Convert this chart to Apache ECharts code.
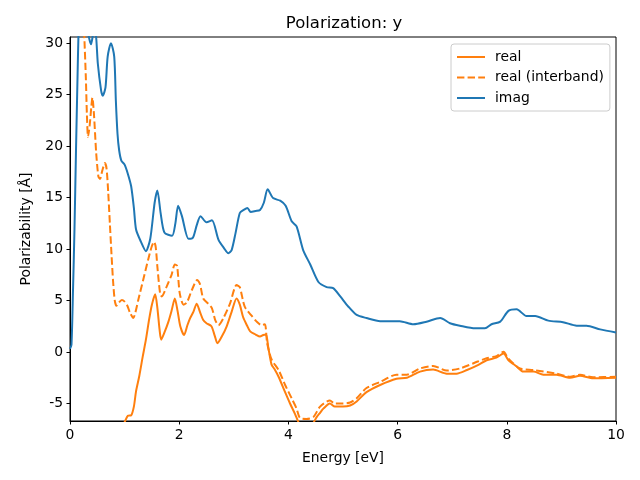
<!DOCTYPE html>
<html>
<head>
<meta charset="utf-8">
<script src="https://cdn.jsdelivr.net/npm/echarts@6/dist/echarts.min.js"></script>
<style>html,body{margin:0;padding:0;background:#fff}#c{width:640px;height:480px}</style>
</head>
<body>
<div id="c"></div>
<script>
// ---- data ----
const yTicks = [-5, 0, 5, 10, 15, 20, 25, 30];
const xTicks = [0, 2, 4, 6, 8, 10];

const realE = [0, 0.3, 0.6, 0.85, 0.97, 1.01, 1.06, 1.12, 1.17, 1.21, 1.27, 1.33, 1.39, 1.45, 1.5, 1.56, 1.6, 1.64, 1.67, 1.73, 1.8, 1.86, 1.92, 1.97, 2.02, 2.09, 2.15, 2.2, 2.26, 2.32, 2.38, 2.44, 2.5, 2.59, 2.65, 2.70, 2.78, 2.87, 2.96, 3.05, 3.11, 3.17, 3.24, 3.3, 3.4, 3.48, 3.54, 3.59, 3.63, 3.69, 3.75, 3.82, 3.94, 4.03, 4.12, 4.2, 4.3, 4.42, 4.52, 4.58, 4.64, 4.76, 4.85, 5.0, 5.13, 5.25, 5.43, 5.68, 5.98, 6.17, 6.41, 6.65, 6.9, 7.08, 7.27, 7.48, 7.63, 7.81, 7.94, 8.03, 8.18, 8.3, 8.49, 8.67, 8.91, 9.16, 9.34, 9.58, 10];
const realV = [-40, -25, -15, -9, -7.2, -6.7, -6.2, -6.15, -5.3, -3.8, -2.3, -0.5, 1.2, 3.2, 4.6, 5.6, 4.3, 2.2, 1.2, 1.9, 2.9, 4.0, 5.2, 4.0, 2.5, 1.65, 2.6, 3.3, 3.9, 4.7, 3.9, 3.1, 2.8, 2.5, 1.6, 0.85, 1.5, 2.5, 3.9, 5.2, 4.6, 3.4, 2.6, 2.0, 1.7, 1.5, 1.65, 1.7, 0.5, -1.2, -1.7, -2.4, -3.9, -5.0, -6.0, -7.0, -7.8, -7.2, -6.3, -5.9, -5.5, -5.0, -5.3, -5.3, -5.2, -4.8, -3.9, -3.2, -2.6, -2.5, -1.9, -1.7, -2.1, -2.1, -1.75, -1.25, -0.8, -0.55, -0.15, -0.8, -1.4, -1.9, -1.9, -2.2, -2.2, -2.5, -2.3, -2.55, -2.5];

const interE = [0, 0.2, 0.26, 0.29, 0.31, 0.33, 0.36, 0.39, 0.41, 0.44, 0.48, 0.52, 0.55, 0.59, 0.64, 0.67, 0.7, 0.73, 0.76, 0.79, 0.82, 0.85, 0.88, 0.95, 1.0, 1.05, 1.1, 1.16, 1.2, 1.25, 1.34, 1.43, 1.5, 1.54, 1.57, 1.6, 1.65, 1.68, 1.77, 1.86, 1.92, 1.96, 2.01, 2.08, 2.14, 2.23, 2.33, 2.38, 2.44, 2.53, 2.6, 2.66, 2.72, 2.81, 2.93, 3.05, 3.11, 3.2, 3.33, 3.41, 3.51, 3.57, 3.61, 3.69, 3.82, 3.94, 4.06, 4.15, 4.21, 4.33, 4.46, 4.58, 4.76, 4.85, 5.0, 5.13, 5.25, 5.43, 5.68, 5.98, 6.17, 6.41, 6.65, 6.9, 7.14, 7.48, 7.63, 7.81, 7.94, 8.03, 8.24, 8.49, 8.91, 9.16, 9.34, 9.58, 10];
const interV = [60, 40, 31, 26.7, 23, 20.9, 22, 23.8, 24.7, 23, 19.3, 17.05, 16.8, 17.6, 18.35, 17.8, 15.5, 12.5, 9.5, 6.8, 5.0, 4.5, 4.7, 5.05, 4.9, 4.5, 3.8, 3.3, 3.9, 5.05, 7.0, 8.95, 10.3, 10.7, 10.2, 8.3, 5.7, 5.4, 6.35, 7.5, 8.5, 8.4, 5.7, 4.6, 4.8, 6.0, 7.0, 6.6, 5.2, 4.7, 4.25, 3.1, 2.6, 3.3, 4.7, 6.5, 6.3, 4.4, 3.5, 3.0, 2.6, 2.7, 0.9, -0.7, -1.75, -3.2, -4.5, -5.5, -6.4, -6.5, -6.3, -5.3, -4.7, -5.0, -5.0, -4.9, -4.5, -3.5, -2.9, -2.2, -2.2, -1.6, -1.35, -1.8, -1.6, -0.9, -0.6, -0.4, 0.03, -0.65, -1.6, -1.75, -2.1, -2.4, -2.2, -2.45, -2.4];

const imagE = [0, 0.027, 0.055, 0.082, 0.11, 0.137, 0.156, 0.19, 0.25, 0.3, 0.34, 0.385, 0.42, 0.45, 0.48, 0.51, 0.57, 0.6, 0.65, 0.69, 0.75, 0.81, 0.84, 0.87, 0.9, 0.94, 1.0, 1.06, 1.12, 1.17, 1.21, 1.3, 1.39, 1.47, 1.55, 1.6, 1.66, 1.73, 1.87, 1.93, 1.98, 2.05, 2.17, 2.25, 2.32, 2.39, 2.5, 2.6, 2.72, 2.82, 2.9, 2.96, 3.03, 3.11, 3.18, 3.25, 3.31, 3.4, 3.48, 3.55, 3.62, 3.72, 3.85, 3.95, 4.06, 4.15, 4.27, 4.4, 4.55, 4.7, 4.82, 4.95, 5.1, 5.25, 5.43, 5.68, 6.04, 6.29, 6.53, 6.78, 6.96, 7.14, 7.42, 7.6, 7.72, 7.88, 8.03, 8.18, 8.36, 8.52, 8.76, 9.03, 9.28, 9.46, 9.71, 10];
const imagV = [0.3, 0.7, 6, 11.9, 19.6, 26.5, 31, 36, 38, 34, 30.8, 29.9, 30.8, 31.5, 30.5, 28, 25.4, 24.9, 25.7, 28.7, 30.0, 28.7, 24.4, 21.2, 19.6, 18.6, 18.2, 17.3, 16.1, 14, 11.9, 10.7, 9.8, 11, 14.5, 15.7, 13.5, 11.6, 11.3, 12.5, 14.2, 13.2, 11, 11.1, 12.3, 13.2, 12.6, 12.8, 10.9, 10.1, 9.6, 9.9, 11.5, 13.5, 13.8, 14.0, 13.6, 13.7, 13.8, 14.5, 15.8, 14.95, 14.7, 14.2, 12.7, 12.2, 9.9, 8.5, 6.8, 6.3, 6.2, 5.4, 4.4, 3.6, 3.3, 3.0, 3.0, 2.7, 2.95, 3.3, 2.8, 2.56, 2.3, 2.3, 2.7, 2.95, 4.0, 4.15, 3.5, 3.5, 3.05, 2.9, 2.56, 2.56, 2.2, 1.9];

const zip = (a, b) => a.map((x, i) => [x, b[i]]);

const FONT = 'DejaVu Sans';
const chart = echarts.init(document.getElementById('c'), null, {renderer: 'canvas'});
chart.setOption({
  animation: false,
  backgroundColor: '#fff',
  textStyle: {fontFamily: FONT},
  title: {
    text: 'Polarization: y', left: 339, top: 10, textAlign: 'center',
    textStyle: {fontFamily: FONT, fontSize: 16.5, fontWeight: 'normal', color: '#000'}
  },
  grid: {left: 70, right: 24, top: 37, bottom: 59, show: true, borderColor: '#000', borderWidth: 1, backgroundColor: 'transparent'},
  legend: {
    orient: 'vertical', left: 451, top: 44, align: 'left',
    padding: [6, 6, 6, 5], itemGap: 6.5, itemWidth: 28, itemHeight: 14,
    backgroundColor: 'rgba(255,255,255,0.8)', borderColor: '#cccccc', borderWidth: 1, borderRadius: 3,
    itemStyle: {opacity: 0},
    textStyle: {fontFamily: FONT, fontSize: 13.9, color: '#000', padding: [0, 0, 0, 5]},
    data: ['real', 'real (interband)', 'imag']
  },
  xAxis: {
    type: 'value', min: 0, max: 10, interval: 2,
    name: 'Energy [eV]', nameLocation: 'middle', nameGap: 30,
    nameTextStyle: {fontFamily: FONT, fontSize: 13.9, color: '#000'},
    axisLine: {show: true, onZero: false, lineStyle: {color: '#000', width: 1}},
    axisTick: {show: true, inside: false, length: 3.5, lineStyle: {color: '#000'}},
    axisLabel: {fontFamily: FONT, fontSize: 13.9, color: '#000', margin: 7},
    splitLine: {show: false}
  },
  yAxis: {
    type: 'value', min: -6.7, max: 30.6,
    name: 'Polarizability [Å]', nameLocation: 'middle', nameGap: 37, nameRotate: 90,
    nameTextStyle: {fontFamily: FONT, fontSize: 13.9, color: '#000'},
    axisLine: {show: true, onZero: false, lineStyle: {color: '#000', width: 1}},
    axisTick: {show: true, inside: false, length: 3.5, lineStyle: {color: '#000'}, customValues: yTicks},
    axisLabel: {fontFamily: FONT, fontSize: 13.9, color: '#000', margin: 7, customValues: yTicks},
    splitLine: {show: false}
  },
  series: [
    {name: 'real', type: 'line', data: zip(realE, realV), symbol: 'none', smooth: 0.25, clip: true,
     lineStyle: {color: '#ff7f0e', width: 2}, itemStyle: {color: '#ff7f0e'}},
    {name: 'real (interband)', type: 'line', data: zip(interE, interV), symbol: 'none', smooth: 0.25, clip: true,
     lineStyle: {color: '#ff7f0e', width: 2, type: [7.4, 3.2]}, itemStyle: {color: '#ff7f0e'}},
    {name: 'imag', type: 'line', data: zip(imagE, imagV), symbol: 'none', smooth: 0.25, clip: true,
     lineStyle: {color: '#1f77b4', width: 2}, itemStyle: {color: '#1f77b4'}}
  ]
});
</script>
</body>
</html>
